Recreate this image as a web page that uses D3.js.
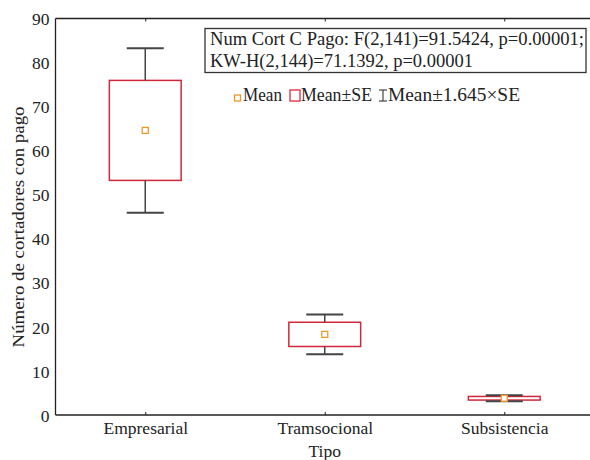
<!DOCTYPE html>
<html><head><meta charset="utf-8">
<script src="https://cdn.jsdelivr.net/npm/d3@7"></script>
<style>body{margin:0;background:#fff}svg{display:block}svg text{font-family:'Liberation Serif','Times New Roman','DejaVu Serif',serif !important;fill:#222}</style>
</head><body><svg id="c" width="590" height="460" font-family="Liberation Serif"></svg>
<script>
const categories = ["Empresarial","Tramsocional","Subsistencia"];
const means = [64.6, 18.3, 3.8];
const ses = [11.35, 2.75, 0.41];
const yTicks = [0,10,20,30,40,50,60,70,80,90];
const statLines = ["Num Cort C Pago: F(2,141)=91.5424, p=0.00001;","KW-H(2,144)=71.1392, p=0.00001"];
const legendItems = ["Mean","Mean±SE","Mean±1.645×SE"];

const svg = d3.select("#c");
const L=55.5, T=18.5, B=415, R=594;
const FS = "17.5px";
const x = d3.scalePoint().domain(categories).range([L,R]).padding(0.5);
const step = x.step();
const y = d3.scaleLinear().domain([0,90]).range([B,T]);
const data = categories.map((c,i)=>({c,m:means[i],se:ses[i]}));

// frame
svg.append("line").attr("x1",L).attr("x2",L).attr("y1",T).attr("y2",B).attr("stroke","#222").attr("stroke-width",1.3);
svg.append("line").attr("x1",L).attr("x2",R).attr("y1",T).attr("y2",T).attr("stroke","#222").attr("stroke-width",1.3);
svg.append("line").attr("x1",L).attr("x2",R).attr("y1",B).attr("y2",B).attr("stroke","#222").attr("stroke-width",1.3);

// y axis labels (no ticks)
const ya = svg.append("g").attr("transform",`translate(${L},0)`).call(d3.axisLeft(y).tickValues(yTicks).tickSize(0).tickPadding(6));
ya.attr("font-family",null);
ya.select(".domain").remove();
ya.selectAll("text").style("font-size",FS).attr("fill","#222").attr("dy","0.35em");

// x axis
const xa = svg.append("g").attr("transform",`translate(0,${B})`).call(d3.axisBottom(x).tickSize(-3).tickPadding(7));
xa.attr("font-family",null);
xa.select(".domain").remove();
xa.selectAll("line").attr("stroke","#222");
xa.selectAll("text").style("font-size",FS).attr("fill","#222");
const xt = svg.append("g").attr("transform",`translate(0,${T})`).call(d3.axisTop(x).tickSize(-3).tickFormat(""));
xt.select(".domain").remove();
xt.selectAll("line").attr("stroke","#222");

const g = svg.append("g");
const bHalf = step*0.2, wHalf = step*0.103;
// boxes
data.forEach(d=>{
  const cx = x(d.c);
  g.append("rect").attr("x",cx-bHalf).attr("width",bHalf*2)
    .attr("y",y(d.m+d.se)).attr("height",y(d.m-d.se)-y(d.m+d.se))
    .attr("fill","#fff").attr("stroke","#d0283a").attr("stroke-width",1.5);
});
// whiskers (outside box)
data.forEach(d=>{
  const cx = x(d.c);
  const hi = y(d.m+1.645*d.se), lo = y(d.m-1.645*d.se);
  g.append("line").attr("x1",cx).attr("x2",cx).attr("y1",hi).attr("y2",y(d.m+d.se)).attr("stroke","#444").attr("stroke-width",1.5);
  g.append("line").attr("x1",cx).attr("x2",cx).attr("y1",lo).attr("y2",y(d.m-d.se)).attr("stroke","#444").attr("stroke-width",1.5);
  [hi,lo].forEach(v=>g.append("line").attr("x1",cx-wHalf).attr("x2",cx+wHalf).attr("y1",v).attr("y2",v).attr("stroke","#444").attr("stroke-width",2));
});
// means
data.forEach(d=>{
  const cx = x(d.c);
  g.append("rect").attr("x",cx-3).attr("y",y(d.m)-3).attr("width",6).attr("height",6)
    .attr("fill","#fff").attr("stroke","#f0982a").attr("stroke-width",1.3);
});

// stats box
svg.append("rect").attr("x",205).attr("y",28.5).attr("width",381).attr("height",44).attr("fill","#fff").attr("stroke","#333").attr("stroke-width",1.3);
const statW = [374, 263];
statLines.forEach((s,i)=>svg.append("text").attr("x",210).attr("y",44.5+i*22.3).style("font-size","18px")
  .attr("textLength",statW[i]).attr("lengthAdjust","spacingAndGlyphs").text(s));

// legend row
const ly = 101;
svg.append("rect").attr("x",234.5).attr("y",ly-6).attr("width",6).attr("height",6).attr("fill","#fff").attr("stroke","#f0982a").attr("stroke-width",1.3);
svg.append("text").attr("x",243).attr("y",ly).style("font-size","18px").attr("textLength",39).attr("lengthAdjust","spacingAndGlyphs").text(legendItems[0]);
svg.append("rect").attr("x",290).attr("y",ly-11).attr("width",10).attr("height",11).attr("fill","none").attr("stroke","#e0283a").attr("stroke-width",1.3);
svg.append("text").attr("x",301).attr("y",ly).style("font-size","18px").attr("textLength",71).attr("lengthAdjust","spacingAndGlyphs").text(legendItems[1]);
svg.append("line").attr("x1",383).attr("x2",383).attr("y1",ly-11).attr("y2",ly).attr("stroke","#444").attr("stroke-width",1.2);
[ly-11,ly].forEach(v=>svg.append("line").attr("x1",379).attr("x2",387).attr("y1",v).attr("y2",v).attr("stroke","#444").attr("stroke-width",1.2));
svg.append("text").attr("x",388).attr("y",ly).style("font-size","18px").attr("textLength",132).attr("lengthAdjust","spacingAndGlyphs").text(legendItems[2]);

// axis titles
svg.append("text").attr("transform","translate(24,227) rotate(-90)").attr("text-anchor","middle").style("font-size",FS)
  .attr("textLength",241).attr("lengthAdjust","spacingAndGlyphs").text("Número de cortadores con pago");
svg.append("text").attr("x",x(categories[1])).attr("y",457).attr("text-anchor","middle").style("font-size",FS).text("Tipo");
</script></body></html>
